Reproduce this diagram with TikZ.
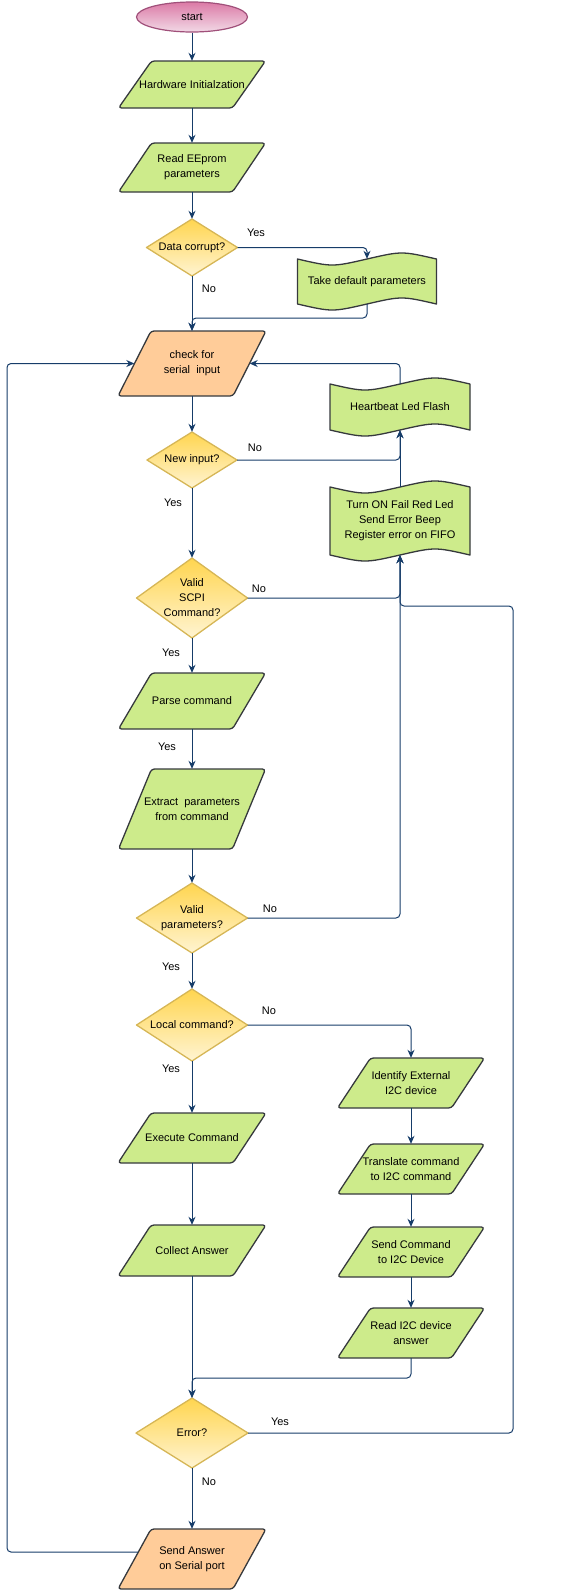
\documentclass[tikz,border=0pt]{standalone}
\usepackage{fontspec}
\setmainfont{Liberation Sans}
\usetikzlibrary{shapes.geometric,arrows.meta}
\definecolor{linkc}{RGB}{22,60,105}
\definecolor{shpline}{RGB}{54,57,61}
\definecolor{grn}{HTML}{CDEB8B}
\definecolor{org}{HTML}{FFCC99}
\definecolor{dtop}{HTML}{FFD54F}
\definecolor{dbot}{HTML}{FFF4D2}
\definecolor{dline}{HTML}{D6B656}
\definecolor{stop}{HTML}{DB7AA6}
\definecolor{sbot}{HTML}{F2D9E6}
\definecolor{sline}{HTML}{A0507A}
\newcommand{\fcfont}{\fontsize{11}{15}\selectfont}
\newcommand{\fcPara}[7]{%
  \path[shp, fill=#6] ({#2-#4/2},{#3+#5/2}) -- ({#2-#4/2+33},{#3-#5/2}) -- ({#2+#4/2},{#3-#5/2}) -- ({#2+#4/2-33},{#3+#5/2}) -- cycle;
  \node[lbl, minimum width=#4pt, minimum height=#5pt] (#1) at (#2,#3) {#7};}
\newcommand{\fcDiam}[6]{%
  \path[dshp] ({#2-#4/2},{#3}) -- ({#2},{#3-#5/2}) -- ({#2+#4/2},{#3}) -- ({#2},{#3+#5/2}) -- cycle;
  \node[lbl, minimum width=#4pt, minimum height=#5pt] (#1) at (#2,#3) {#6};}
\newcommand{\fcTape}[6]{%
  \path[shp, rounded corners=0pt, fill=grn] ({#2-#4/2},{#3-#5/2+5}) .. controls ({#2-#4/4},{#3-#5/2+13}) .. ({#2},{#3-#5/2+5}) .. controls ({#2+#4/4},{#3-#5/2-3}) .. ({#2+#4/2},{#3-#5/2+5}) -- ({#2+#4/2},{#3+#5/2-5}) .. controls ({#2+#4/4},{#3+#5/2-13}) .. ({#2},{#3+#5/2-5}) .. controls ({#2-#4/4},{#3+#5/2+3}) .. ({#2-#4/2},{#3+#5/2-5}) -- cycle;
  \node[lbl, minimum width=#4pt, minimum height=#5pt-10pt] (#1) at (#2,#3) {#6};}
\begin{document}
\begin{tikzpicture}[x=1pt,y=-1pt,
  shp/.style={draw=shpline,line width=1.3pt,rounded corners=3pt,line join=round},
  dshp/.style={draw=dline,line width=1.3pt,line join=round,top color=dtop,bottom color=dbot},
  lbl/.style={inner sep=0pt,align=center,font=\fcfont,text=black},
  elab/.style={inner sep=0pt,font=\fcfont,text=black},
  lnk/.style={draw=linkc,line width=1pt,rounded corners=4pt,-{Stealth[length=8pt,width=7pt]}}]
\useasboundingbox (0,0) rectangle (565,1591);
% shapes
\node[ellipse, draw=sline, line width=1.2pt, top color=stop, bottom color=sbot, minimum width=111pt, minimum height=30pt, lbl] (start) at (192,17) {start};
\fcPara{hw}{192}{84.5}{147}{47}{grn}{Hardware Initialzation}
\fcPara{ee}{192}{167.5}{147}{49}{grn}{Read EEprom\\parameters}
\fcDiam{dc}{192}{247.5}{91}{57}{Data corrupt?}
\fcTape{tdp}{367}{281.5}{139}{55}{Take default parameters}
\fcPara{chk}{192}{363.5}{148}{65}{org}{check for\\serial\ \ input}
\fcTape{hb}{400}{407}{140}{56}{Heartbeat Led Flash}
\fcDiam{ni}{192}{460}{90}{56}{New input?}
\fcTape{ton}{400}{521}{140}{78}{Turn ON Fail Red Led\\Send Error Beep\\Register error on FIFO}
\fcDiam{vs}{192}{598}{111}{80}{Valid\\SCPI\\Command?}
\fcPara{parse}{192}{701}{147}{56}{grn}{Parse command}
\fcPara{extract}{192}{809}{147}{80}{grn}{Extract\ \ parameters\\from command}
\fcDiam{vp}{192}{918}{111}{70}{Valid\\parameters?}
\fcDiam{lc}{192}{1025}{111}{72}{Local command?}
\fcPara{exec}{192}{1138}{148}{50}{grn}{Execute Command}
\fcPara{collect}{192}{1250.5}{148}{51}{grn}{Collect Answer}
\fcPara{ident}{411}{1083}{147}{50}{grn}{Identify External\\I2C device}
\fcPara{trans}{411}{1169}{147}{50}{grn}{Translate command\\to I2C command}
\fcPara{sendc}{411}{1252}{147}{50}{grn}{Send Command\\to I2C Device}
\fcPara{readi}{411}{1333}{147}{50}{grn}{Read I2C device\\answer}
\fcDiam{err}{192}{1433}{112}{70}{Error?}
\fcPara{sendans}{192}{1559}{148}{60}{org}{Send Answer\\on Serial port}
% helper coordinates
\coordinate (m1) at (192,318);
\coordinate (m2) at (192,1378);
\coordinate (ex) at (513,606);
\coordinate (lx) at (7,0);
% connectors
\draw[lnk] (start) -- (hw);
\draw[lnk] (hw) -- (ee);
\draw[lnk] (ee) -- (dc);
\draw[lnk] (dc.east) -| (tdp.north);
\draw[lnk] (dc) -- (chk);
\draw[lnk] (tdp.south) |- (m1) -- (chk.north);
\draw[lnk] (chk) -- (ni);
\draw[lnk] (ni.east) -| (hb.south);
\draw[lnk] (ton) -- (hb);
\draw[lnk] (hb.north) |- ([xshift=-16.5pt]chk.east);
\draw[lnk] (ni) -- (vs);
\draw[lnk] (vs.east) -| (ton.south);
\draw[lnk] (vs) -- (parse);
\draw[lnk] (parse) -- (extract);
\draw[lnk] (extract) -- (vp);
\draw[lnk] (vp.east) -| (ton.south);
\draw[lnk] (vp) -- (lc);
\draw[lnk] (lc.east) -| (ident.north);
\draw[lnk] (lc) -- (exec);
\draw[lnk] (exec) -- (collect);
\draw[lnk] (collect) -- (err);
\draw[lnk] (ident) -- (trans);
\draw[lnk] (trans) -- (sendc);
\draw[lnk] (sendc) -- (readi);
\draw[lnk] (readi.south) |- (m2) -- (err.north);
\draw[lnk] (err.east) -| (ex) -| (ton.south);
\draw[lnk] (err) -- (sendans);
\draw[lnk] ([xshift=20pt,yshift=7pt]sendans.west) -| (lx |- chk.west) -- ([xshift=16.5pt]chk.west);
% edge labels
\node[elab] (l1) at (256,233) {Yes};
\node[elab] (l2) at (209,289) {No};
\node[elab] (l3) at (255,448) {No};
\node[elab] (l4) at (173,503) {Yes};
\node[elab] (l5) at (259,589) {No};
\node[elab] (l6) at (171,653) {Yes};
\node[elab] (l7) at (167,747) {Yes};
\node[elab] (l8) at (270,909) {No};
\node[elab] (l9) at (171,967) {Yes};
\node[elab] (l10) at (269,1011) {No};
\node[elab] (l11) at (171,1069) {Yes};
\node[elab] (l12) at (280,1422) {Yes};
\node[elab] (l13) at (209,1482) {No};
\end{tikzpicture}
\end{document}
